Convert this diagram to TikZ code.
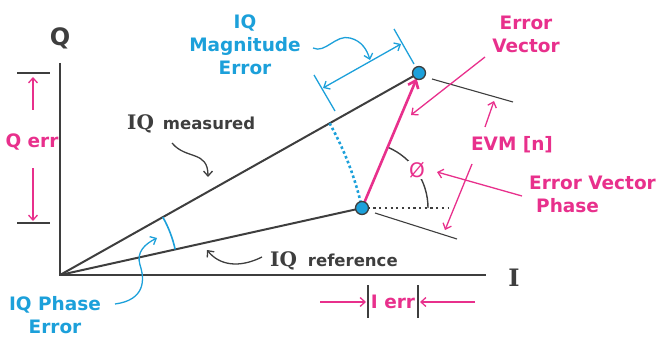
\documentclass[tikz,border=0pt]{standalone}
\usepackage{fontspec}
\setmainfont{DejaVu Sans}
\newfontfamily\slab{DejaVu Serif}
\usetikzlibrary{arrows.meta,calc}
\definecolor{pk}{RGB}{232,48,140}
\definecolor{bl}{RGB}{28,160,218}
\definecolor{dk}{RGB}{62,62,62}
\begin{document}
\begin{tikzpicture}[x=1pt,y=-1pt,
  ax/.style={draw=dk,line width=1.8pt},
  vecln/.style={draw=dk,line width=2pt},
  thinln/.style={draw=dk,line width=1.1pt},
  barb/.style={-{Straight Barb[length=5pt,width=9pt]}},
  pkarrow/.style={draw=pk,line width=1.3pt,barb},
  blarrow/.style={draw=bl,line width=1.3pt,barb},
  dkarrow/.style={draw=dk,line width=1.3pt,barb},
  pklbl/.style={text=pk,font=\bfseries\fontsize{18.5}{23}\selectfont,align=center,inner sep=0pt},
  bllbl/.style={text=bl,font=\bfseries\fontsize{18.5}{23}\selectfont,align=center,inner sep=0pt},
  dot/.style={circle,fill=bl,draw=dk,line width=1.3pt,minimum size=13pt,inner sep=0pt}
]
\useasboundingbox (0,0) rectangle (660,358);
% main points
\coordinate (O) at (60,275);
\coordinate (Qt) at (60,63);
\coordinate (Ie) at (486,275);
\coordinate (M) at (419,73);
\coordinate (R) at (362,208);

% axes
\draw[ax] (Qt) -- (O) -- (Ie);
\node[text=dk,font=\bfseries\fontsize{24}{24}\selectfont,inner sep=0pt] (Ql) at (60,38) {Q};
\node[text=dk,font=\slab\bfseries\fontsize{24}{24}\selectfont,inner sep=0pt] (Il) at (514,278) {I};

% vectors
\draw[vecln] (O) -- (M);
\draw[vecln] (O) -- (R);

% IQ phase error arc
\draw[bl,line width=1.6pt] let \p1=($(M)-(O)$), \p2=($(R)-(O)$),
   \n1={atan2(\y1,\x1)}, \n2={atan2(\y2,\x2)} in
   ($(O)!118pt!(M)$) arc[start angle=\n1, end angle=\n2, radius=118pt];

% dotted magnitude arc
\draw[bl,line width=2.6pt,dash pattern=on 2.6pt off 2.6pt] let \p1=($(M)-(O)$), \p2=($(R)-(O)$),
   \n1={atan2(\y1,\x1)}, \n2={atan2(\y2,\x2)}, \n3={veclen(\x2,\y2)} in
   ($(O)!\n3!(M)$) arc[start angle=\n1, end angle=\n2, radius=\n3];

% magnitude error dimension
\coordinate (t1a) at (414,64);
\coordinate (t1b) at (394,29);
\coordinate (t2a) at (335,111);
\coordinate (t2b) at (314,75);
\coordinate (da) at (323,88);
\coordinate (db) at (401,44);
\draw[bl,line width=1.3pt] (t1a) -- (t1b);
\draw[bl,line width=1.3pt] (t2a) -- (t2b);
\draw[blarrow,{Straight Barb[length=5pt,width=9pt]}-{Straight Barb[length=5pt,width=9pt]}] (da) -- (db);

% EVM guide lines
\coordinate (e1a) at (432,79);
\coordinate (e1b) at (513,102);
\coordinate (e2a) at (375,213);
\coordinate (e2b) at (457,239);
\draw[thinln] (e1a) -- (e1b);
\draw[thinln] (e2a) -- (e2b);

% phase angle
\draw[dk,line width=1.2pt,dash pattern=on 2.2pt off 3.5pt] (R) -- (448,208) coordinate (hz);
\draw[dk,line width=1.4pt] let \p1=($(M)-(R)$), \n1={atan2(\y1,\x1)} in
   ($(R)+(66,0)$) arc[start angle=0, end angle=\n1, radius=66pt];
\node[text=pk,fill=white,inner sep=1pt,font=\fontsize{20}{20}\selectfont] (phi) at (417,170) {Ø};

% error vector
\draw[pk,line width=2.6pt,-{Straight Barb[length=7pt,width=11pt]},shorten >=6pt] (R) -- (M);

% dots
\node[dot] (Md) at (M) {};
\node[dot] (Rd) at (R) {};

% labels
\node[bllbl] (magerr) at (245,45) {IQ\\Magnitude\\Error};
\node[pklbl] (ev) at (526,34) {Error\\Vector};
\node[pklbl] (evm) at (512,145) {EVM [n]};
\node[pklbl,align=left,anchor=west] (evp) at (529,194) {Error Vector\\\hspace*{7pt}Phase};
\node[pklbl] (qerr) at (32,142) {Q err};
\node[pklbl] (ierr) at (393,302) {I err};
\node[bllbl] (pherr) at (55,315) {IQ Phase\\Error};
\node[anchor=base west,inner sep=0pt,text=dk] (meas) at (127,130)
  {{\slab\bfseries\fontsize{20}{20}\selectfont IQ}\hspace{9pt}{\bfseries\fontsize{16.5}{16}\selectfont measured}};
\node[anchor=base west,inner sep=0pt,text=dk] (refl) at (270,266)
  {{\slab\bfseries\fontsize{20}{20}\selectfont IQ}\hspace{11pt}{\bfseries\fontsize{16.5}{16}\selectfont reference}};

% annotation arrows
\draw[dkarrow] (172,143) .. controls (186,160) and (208,150) .. (208,177);
\draw[dkarrow] (262,257) .. controls (240,268) and (220,266) .. (207,250);
\draw[blarrow] (115,304) .. controls (145,300) and (145,280) .. (140,265) .. controls (136,252) and (145,244) .. (157,238);
\draw[blarrow] (313,48) .. controls (325,54) and (336,34) .. (350,38) .. controls (362,41) and (367,50) .. (370,60);
\draw[pkarrow] (485,57) -- (411,115);
\draw[pkarrow] (485,127) -- (494,101);
\draw[pkarrow] (472,164) -- (445,230);
\draw[pkarrow] (522,196) -- (437,172);

% Q err
\draw[thinln] (17,73) -- (50,73);
\draw[thinln] (17,223) -- (50,223);
\draw[pkarrow] (33,110) -- (33,77);
\draw[pkarrow] (33,168) -- (33,221);

% I err
\draw[thinln] (368,285) -- (368,318);
\draw[thinln] (418,285) -- (418,318);
\draw[pkarrow] (320,302) -- (366,302);
\draw[pkarrow] (475,302) -- (420,302);
\end{tikzpicture}
\end{document}
